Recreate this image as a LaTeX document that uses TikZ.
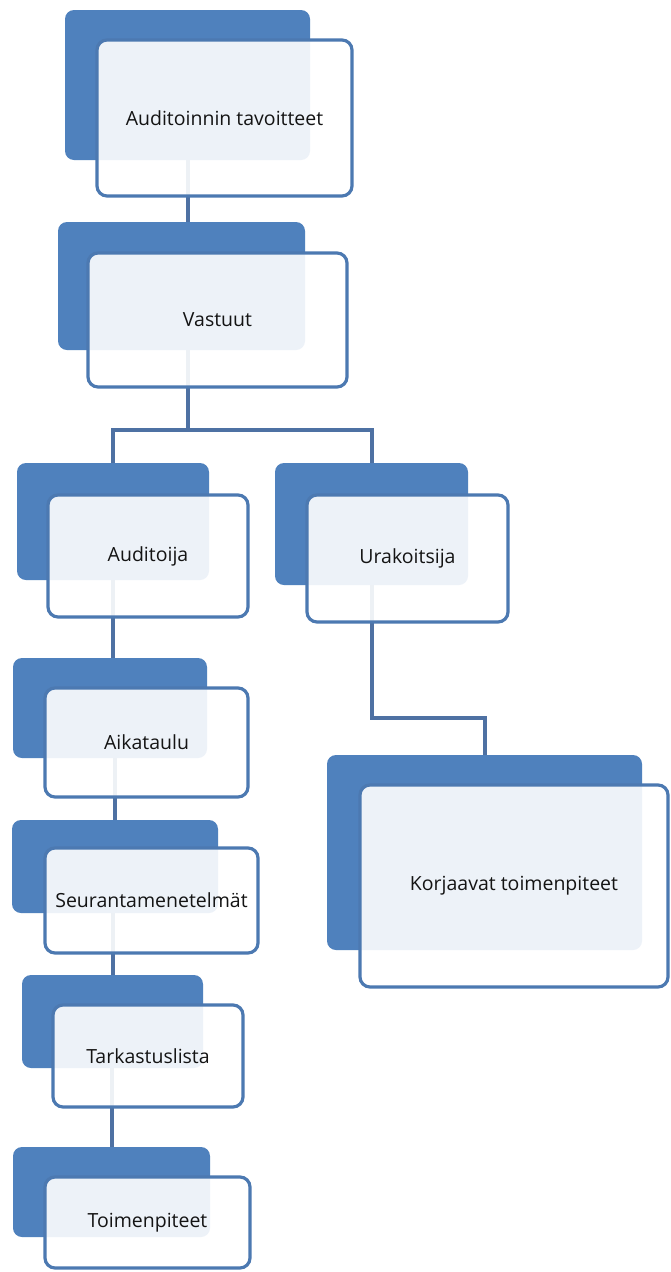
\documentclass[tikz,border=0pt]{standalone}
\usepackage{fontspec}
\setmainfont{Open Sans}
\definecolor{backblue}{HTML}{4F81BD}
\definecolor{edgeblue}{HTML}{4C79B1}
\definecolor{connblue}{HTML}{4E71A3}
\definecolor{txt}{HTML}{141414}
\begin{document}
\begin{tikzpicture}[x=1pt,y=-1pt,
  backbox/.style={rectangle, rounded corners=9pt, fill=backblue, draw=none, inner sep=0pt, outer sep=0pt},
  frontbox/.style={rectangle, rounded corners=10pt, fill=white, fill opacity=0.9, text opacity=1, draw=edgeblue, draw opacity=1, line width=3.2pt, inner sep=0pt, outer sep=0pt, font=\fontsize{19.5}{23}\selectfont, text=txt},
  conn/.style={draw=connblue, line width=4pt}]
\useasboundingbox (0,0) rectangle (671,1272);
\fill[white] (0,0) rectangle (671,1272);
% back boxes
\node[backbox, minimum width=245pt, minimum height=150pt] (b1) at (187.5,85) {};
\node[backbox, minimum width=247pt, minimum height=128pt] (b2) at (181.5,286) {};
\node[backbox, minimum width=192pt, minimum height=117pt] (b3) at (113,521.5) {};
\node[backbox, minimum width=193pt, minimum height=122pt] (b4) at (371.5,524) {};
\node[backbox, minimum width=315pt, minimum height=195pt] (b5) at (484.5,852.5) {};
\node[backbox, minimum width=194pt, minimum height=100pt] (b6) at (110,708) {};
\node[backbox, minimum width=206pt, minimum height=93pt] (b7) at (115,866.5) {};
\node[backbox, minimum width=181pt, minimum height=93pt] (b8) at (112.5,1021.5) {};
\node[backbox, minimum width=197pt, minimum height=90pt] (b9) at (111.5,1192) {};
% connectors
\coordinate (j) at (188,430);
\coordinate (k) at (484.5,718);
\draw[conn] (b1.south) -- (b1.south |- b2.north);
\draw[conn] (b2.south -| j) -- (j);
\draw[conn] (b3.north) |- (j) -| (b4.north);
\draw[conn] (b4.south) |- (k) -- (b5.north);
\draw[conn] (b3.south) -- (b3.south |- b6.north);
\draw[conn] (b7.north |- b6.south) -- (b7.north);
\draw[conn] (b8.north |- b7.south) -- (b8.north);
\draw[conn] (b9.north |- b8.south) -- (b9.north);
% front boxes
\node[frontbox, minimum width=255pt, minimum height=156pt] (f1) at (224.5,118) {Auditoinnin tavoitteet};
\node[frontbox, minimum width=259pt, minimum height=134pt] (f2) at (217.5,320) {Vastuut};
\node[frontbox, minimum width=200pt, minimum height=122pt] (f3) at (148,556) {Auditoija};
\node[frontbox, minimum width=201pt, minimum height=127pt] (f4) at (407.5,558.5) {Urakoitsija};
\node[frontbox, minimum width=308pt, minimum height=202pt] (f5) at (514,886) {Korjaavat toimenpiteet};
\node[frontbox, minimum width=203pt, minimum height=109pt] (f6) at (146.5,742.5) {Aikataulu};
\node[frontbox, minimum width=213pt, minimum height=105pt] (f7) at (151.5,900.5) {Seurantamenetelmät};
\node[frontbox, minimum width=190pt, minimum height=102pt] (f8) at (148,1056) {Tarkastuslista};
\node[frontbox, minimum width=205pt, minimum height=91pt] (f9) at (147.5,1222.5) {Toimenpiteet};
\end{tikzpicture}
\end{document}
